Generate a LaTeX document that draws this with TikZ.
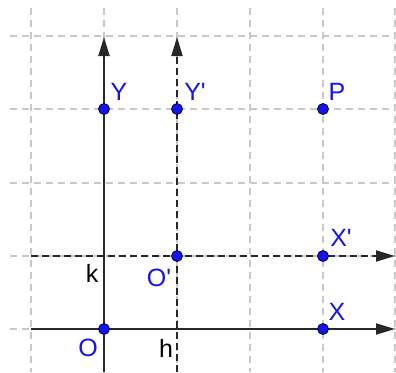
\documentclass[tikz,border=0pt]{standalone}
\usepackage{fontspec}
\setmainfont{Liberation Sans}[Ligatures=TeXOff]
\usetikzlibrary{arrows.meta}
\definecolor{ptblue}{RGB}{20,20,235}
\definecolor{gridgray}{RGB}{200,200,200}
\definecolor{axisdark}{RGB}{40,40,40}
\begin{document}
\begin{tikzpicture}[x=1pt,y=-1pt,
  gridline/.style={draw=gridgray,line width=1.4pt,dash pattern=on 7pt off 5pt},
  axisline/.style={draw=axisdark,line width=1.8pt,-{Triangle[length=19pt,width=11pt]}},
  dashaxis/.style={axisline,dash pattern=on 7pt off 4pt},
  pt/.style={circle,fill=ptblue,draw=black!70!blue,line width=0.8pt,inner sep=0pt,minimum size=11pt},
  bluelbl/.style={text=ptblue,font=\fontsize{25}{27}\selectfont,inner sep=0pt},
  blacklbl/.style={text=black,font=\fontsize{25}{27}\selectfont,inner sep=0pt}]
\useasboundingbox (0,0) rectangle (396,372);
% grid
\foreach \gx in {31,104,177,250,323,395} \draw[gridline] (\gx,8) -- (\gx,372);
\foreach \gy in {36,109,183,256,329} \draw[gridline] (10,\gy) -- (396,\gy);
% axis ends
\coordinate (xs) at (31,329);
\coordinate (xe) at (395,329);
\coordinate (xps) at (31,256);
\coordinate (xpe) at (395,256);
\coordinate (ys) at (104,372);
\coordinate (ye) at (104,37);
\coordinate (yps) at (177,372);
\coordinate (ype) at (177,37);
\draw[axisline] (xs) -- (xe);
\draw[axisline] (ys) -- (ye);
\draw[dashaxis] (xps) -- (xpe);
\draw[dashaxis] (yps) -- (ype);
% points
\node[pt] (O) at (104,329) {};
\node[pt] (Y) at (104,109) {};
\node[pt] (Yp) at (177,109) {};
\node[pt] (P) at (323,109) {};
\node[pt] (Op) at (177,256) {};
\node[pt] (Xp) at (323,256) {};
\node[pt] (X) at (323,329) {};
% labels
\node[bluelbl] (lY) at (119,92) {Y};
\node[bluelbl] (lYp) at (195,92) {Y'};
\node[bluelbl] (lP) at (337,92) {P};
\node[bluelbl] (lXp) at (341,238) {X'};
\node[bluelbl] (lX) at (337,312) {X};
\node[bluelbl] (lO) at (88,348) {O};
\node[bluelbl] (lOp) at (159,278) {O'};
\node[blacklbl] (lk) at (92,273) {k};
\node[blacklbl] (lh) at (166,348) {h};
\end{tikzpicture}
\end{document}
